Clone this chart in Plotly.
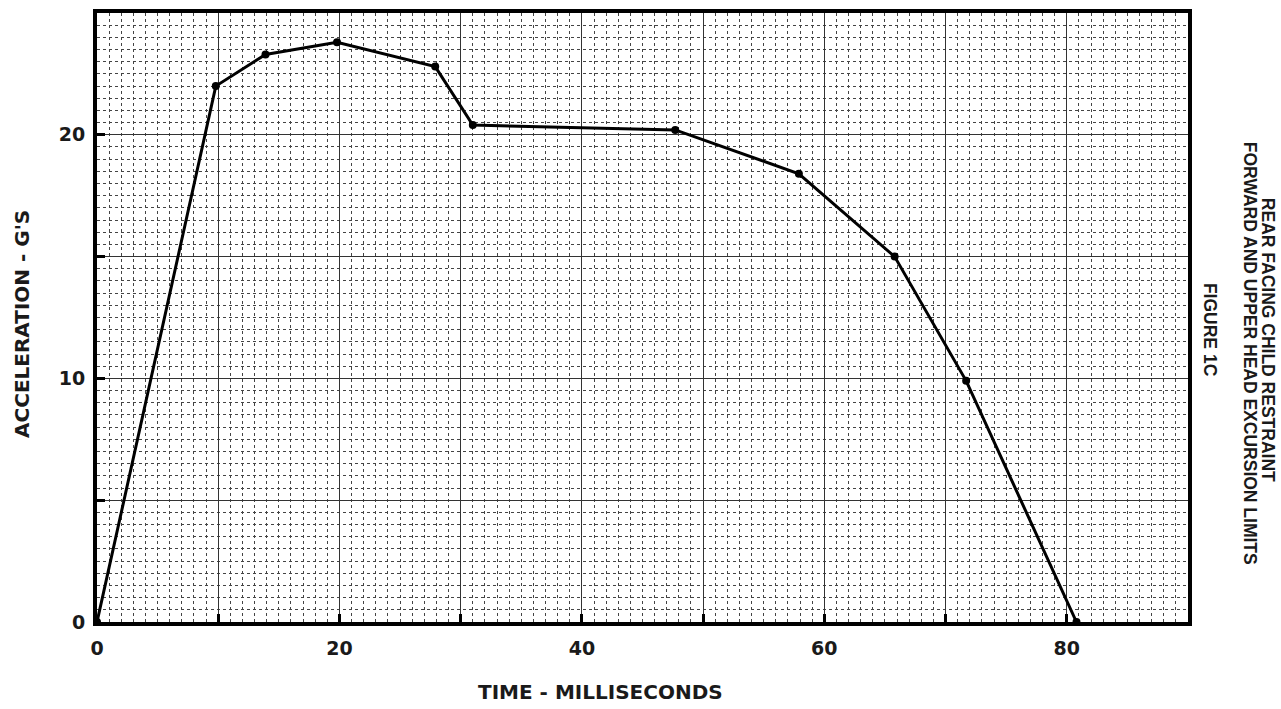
import plotly.graph_objects as go

time_ms = [0, 9.8, 13.9, 19.8, 27.9, 31.0, 47.7, 57.9, 65.8, 71.7, 80.8]
accel_g = [0, 22.0, 23.3, 23.8, 22.8, 20.4, 20.2, 18.4, 15.0, 9.9, 0]

x_tickvals = [0, 10, 20, 30, 40, 50, 60, 70, 80, 90]
x_ticktext = ["<b>0</b>", "", "<b>20</b>", "", "<b>40</b>", "", "<b>60</b>", "", "<b>80</b>", ""]
y_tickvals = [0, 5, 10, 15, 20, 25]
y_ticktext = ["<b>0</b>", "", "<b>10</b>", "", "<b>20</b>", ""]

x_title = "TIME - MILLISECONDS"
y_title = "ACCELERATION - G'S"
side_lines = ["REAR FACING CHILD RESTRAINT",
              "FORWARD AND UPPER HEAD EXCURSION LIMITS",
              "FIGURE 1C"]

fig = go.Figure()
fig.add_trace(go.Scatter(
    x=time_ms, y=accel_g, mode="lines+markers",
    line=dict(color="black", width=3),
    marker=dict(color="black", size=8),
    showlegend=False, cliponaxis=False))

font = dict(family="DejaVu Sans, sans-serif", color="#1a1a1a")
sfont = dict(family="Liberation Sans, Arial, sans-serif", color="#1a1a1a")

FW, FH = 1281, 709
# plot area in page pixels
L, R, T, B = 97, 1188, 9, 622
fig.update_layout(
    width=FW, height=FH,
    margin=dict(l=L, r=FW - R, t=T, b=FH - B),
    paper_bgcolor="white", plot_bgcolor="white",
    font=dict(**font, size=19),
    xaxis=dict(range=[0, 90], tickvals=x_tickvals, ticktext=x_ticktext,
               showgrid=True, gridcolor="#333", gridwidth=1,
               zeroline=False, showline=True, linecolor="black", linewidth=4,
               mirror=True, ticks="inside", ticklen=8, tickwidth=3, tickcolor="black",
               tickfont=dict(size=19), ticklabelstandoff=6,
               minor=dict(dtick=1, showgrid=True, gridcolor="#444",
                          griddash="dot", gridwidth=1)),
    yaxis=dict(range=[0, 25], tickvals=y_tickvals, ticktext=y_ticktext,
               showgrid=True, gridcolor="#333", gridwidth=1,
               zeroline=False, showline=True, linecolor="black", linewidth=4,
               mirror=True, ticks="inside", ticklen=8, tickwidth=3, tickcolor="black",
               tickfont=dict(size=19), ticklabelstandoff=4,
               minor=dict(dtick=0.5, showgrid=True, gridcolor="#444",
                          griddash="dot", gridwidth=1)),
)

W, H = R - L, B - T


def px2paper(px, py):
    return (px - L) / W, (B - py) / H


ax, ay = px2paper(600, 692)
fig.add_annotation(text="<b>" + x_title + "</b>", xref="paper", yref="paper",
                   x=ax, y=ay, showarrow=False, font=dict(size=20, **font),
                   xanchor="center", yanchor="middle")
ax, ay = px2paper(22, 322)
fig.add_annotation(text="<b>" + y_title + "</b>", xref="paper", yref="paper",
                   x=ax, y=ay, textangle=-90, showarrow=False, font=dict(size=20, **font),
                   xanchor="center", yanchor="middle")

pos = [(1268, 338), (1250, 351), (1210, 328)]
for txt, (px, py) in zip(side_lines, pos):
    ax, ay = px2paper(px, py)
    fig.add_annotation(text="<b>" + txt + "</b>", xref="paper", yref="paper",
                       x=ax, y=ay, textangle=90, showarrow=False,
                       font=dict(size=17.5, **sfont), xanchor="center", yanchor="middle")

fig.write_html("out.html", config={"displayModeBar": False},
               post_script="document.body.style.margin='0';document.body.style.overflow='hidden';")
